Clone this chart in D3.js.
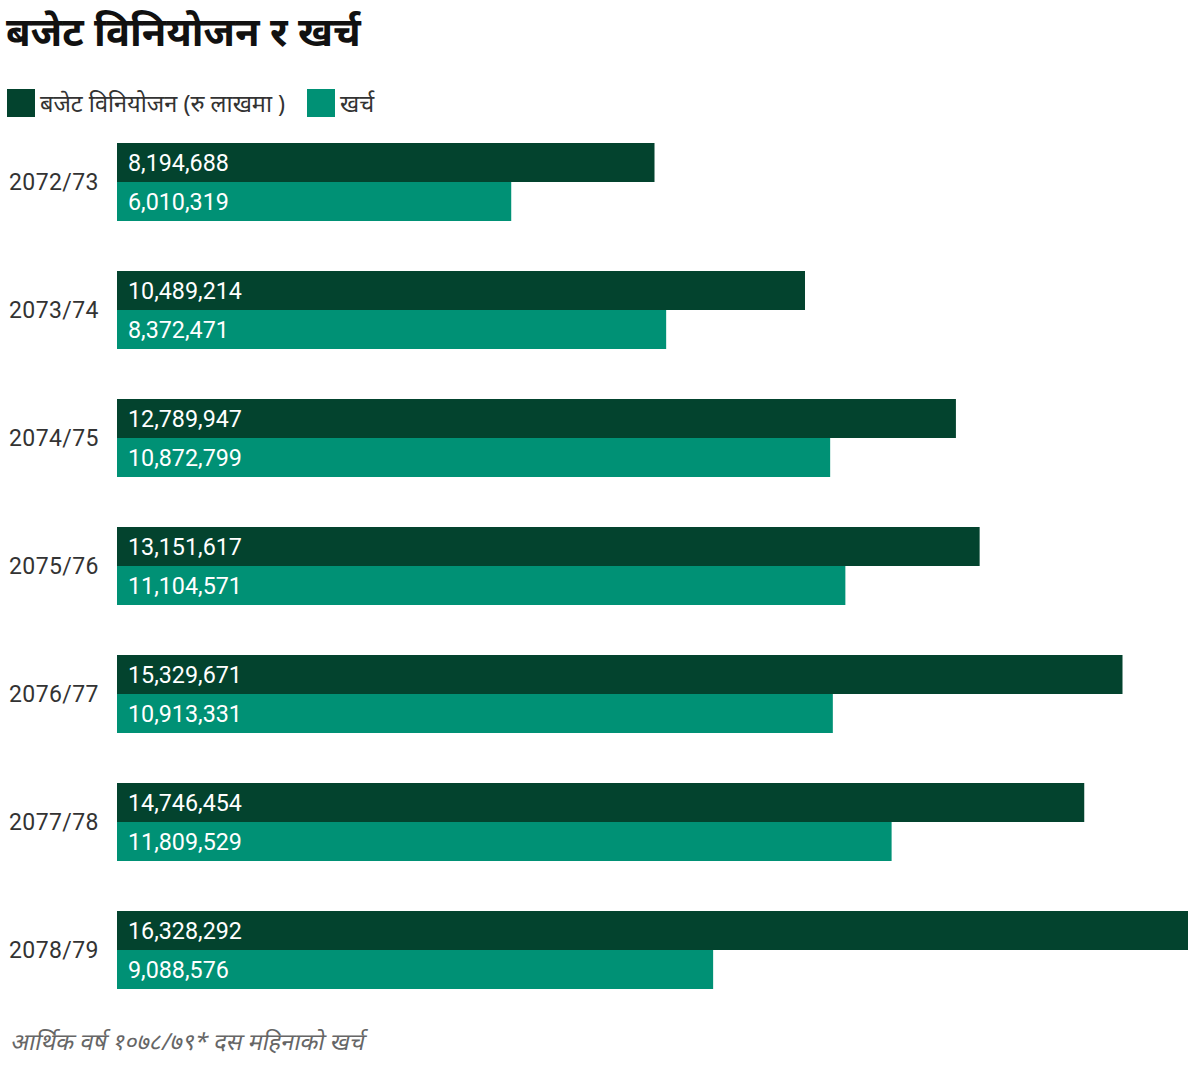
<!DOCTYPE html>
<html><head><meta charset="utf-8">
<script src="https://cdn.jsdelivr.net/npm/d3@7"></script>
<style>
body{margin:0;background:#fff;}
text{font-family:Roboto,"Noto Sans",sans-serif;}
</style></head>
<body>
<svg id="c" width="1200" height="1072"></svg>
<script>
const years = ["2072/73","2073/74","2074/75","2075/76","2076/77","2077/78","2078/79"];
const budget = [8194688,10489214,12789947,13151617,15329671,14746454,16328292];
const expense = [6010319,8372471,10872799,11104571,10913331,11809529,9088576];
const seriesNames = ["बजेट विनियोजन (रु लाखमा )","खर्च"];
const colors = ["#03432e","#009175"];
const title = "बजेट विनियोजन र खर्च";
const note = "आर्थिक वर्ष १०७८/७९* दस महिनाको खर्च";

const svg = d3.select("#c");
const x0 = 117, x1 = 1188;
const x = d3.scaleLinear().domain([0, d3.max(budget)]).range([x0, x1]);
const y = d3.scaleBand().domain(years).range([143, 143 + 128*7]).paddingInner(0).paddingOuter(0);
const bh = 39;

svg.append("text").attr("x",6).attr("y",46).attr("font-size",40).attr("font-weight",700)
  .attr("fill","#111").style("font-family","'Noto Sans',sans-serif").text(title);

// legend
const lg = [{x:7,t:seriesNames[0],c:colors[0]},{x:307,t:seriesNames[1],c:colors[1]}];
lg.forEach(d=>{
  svg.append("rect").attr("x",d.x).attr("y",89).attr("width",28).attr("height",28).attr("fill",d.c);
  svg.append("text").attr("x",d.x+33).attr("y",112).attr("font-size",23.5).attr("fill","#333")
    .style("font-family","'Noto Sans',sans-serif").text(d.t);
});

const data = years.map((yr,i)=>({yr, vals:[budget[i],expense[i]]}));
const g = svg.selectAll("g.grp").data(data).join("g").attr("class","grp")
  .attr("transform",d=>`translate(0,${y(d.yr)})`);
g.append("text").attr("x",9).attr("y",bh+8).attr("font-size",23).attr("letter-spacing",0.4)
  .attr("fill","#333").text(d=>d.yr);
g.selectAll("rect").data(d=>d.vals).join("rect")
  .attr("x",x0).attr("y",(d,i)=>i*bh).attr("height",bh)
  .attr("width",d=>x(d)-x0).attr("fill",(d,i)=>colors[i]);
g.selectAll("text.v").data(d=>d.vals).join("text").attr("class","v")
  .attr("x",128).attr("y",(d,i)=>i*bh+28).attr("font-size",23.3).attr("fill","#fff")
  .text(d=>d3.format(",")(d));

svg.append("text").attr("x",0).attr("y",0).attr("font-size",23.5)
  .attr("transform","translate(10,1050) skewX(-12)")
  .attr("fill","#666").style("font-family","'Noto Sans',sans-serif").text(note);
</script>
</body></html>
